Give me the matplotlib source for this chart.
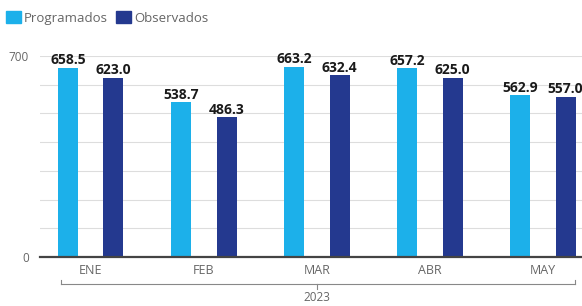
import numpy as np
import matplotlib
matplotlib.use("Agg")
import matplotlib.pyplot as plt
from matplotlib.patches import Patch

meses = ["ENE", "FEB", "MAR", "ABR", "MAY"]
programados = [658.5, 538.7, 663.2, 657.2, 562.9]
observados = [623.0, 486.3, 632.4, 625.0, 557.0]
anio = "2023"

c_prog = "#1cb0ea"
c_obs = "#24398f"
gris = "#666666"

plt.rcParams['font.family'] = ['Open Sans', 'DejaVu Sans']

fig = plt.figure(figsize=(5.82, 3.06), dpi=100)
ax = fig.add_axes([40 / 582, 49 / 306, 542 / 582, 201 / 306])

x = np.arange(len(meses))
w = 0.177
off = 0.2
b1 = ax.bar(x - off, programados, w, color=c_prog, zorder=3)
b2 = ax.bar(x + off, observados, w, color=c_obs, zorder=3)

for bars, vals in ((b1, programados), (b2, observados)):
    for b, v in zip(bars, vals):
        ax.annotate(f"{v:.1f}", (b.get_x() + b.get_width() / 2, v),
                    xytext=(0, 0.5), textcoords="offset points",
                    ha="center", va="bottom", fontsize=10,
                    fontweight="bold", color="#1a1a1a",
                    annotation_clip=False)

ax.set_xlim(-0.45, 4.345)
ax.set_ylim(0, 700)
ax.set_yticks([0, 700])
ax.set_yticks(np.arange(0, 701, 100), minor=True)
ax.grid(axis="y", which="both", color="#dddddd", linewidth=0.8, zorder=0)
ax.tick_params(axis="y", which="both", length=0, labelsize=8.5,
               labelcolor=gris, pad=8)
ax.set_xticks(x)
ax.set_xticklabels(meses)
ax.tick_params(axis="x", length=0, labelsize=9, labelcolor=gris, pad=5)
for s in ["top", "right", "left"]:
    ax.spines[s].set_visible(False)
ax.spines["bottom"].set_color("#444444")
ax.spines["bottom"].set_linewidth(1.6)
ax.spines["bottom"].set_zorder(4)

# bracket for the year
trans = ax.get_xaxis_transform()
yb = -0.135
ax.plot([-0.26, 4.28], [yb, yb], color="#888888", lw=0.8,
        transform=trans, clip_on=False)
ax.plot([-0.26, -0.26], [yb, yb + 0.02], color="#888888", lw=0.8,
        transform=trans, clip_on=False)
ax.plot([4.28, 4.28], [yb, yb + 0.02], color="#888888", lw=0.8,
        transform=trans, clip_on=False)
ax.plot([2.0, 2.0], [yb, yb - 0.025], color="#888888", lw=0.8,
        transform=trans, clip_on=False)
ax.text(2.0, yb - 0.035, anio, transform=trans, ha="center", va="top",
        fontsize=8.5, color=gris)

handles = [Patch(color=c_prog, label="Programados"),
           Patch(color=c_obs, label="Observados")]
fig.legend(handles=handles, loc="upper left", bbox_to_anchor=(-0.005, 0.995),
           ncol=2, frameon=False, handlelength=1.1, handleheight=1.1,
           handletextpad=0.25, columnspacing=0.6, fontsize=9.5,
           labelcolor=gris, borderaxespad=0.3)

fig.savefig("out.png", dpi=100)
